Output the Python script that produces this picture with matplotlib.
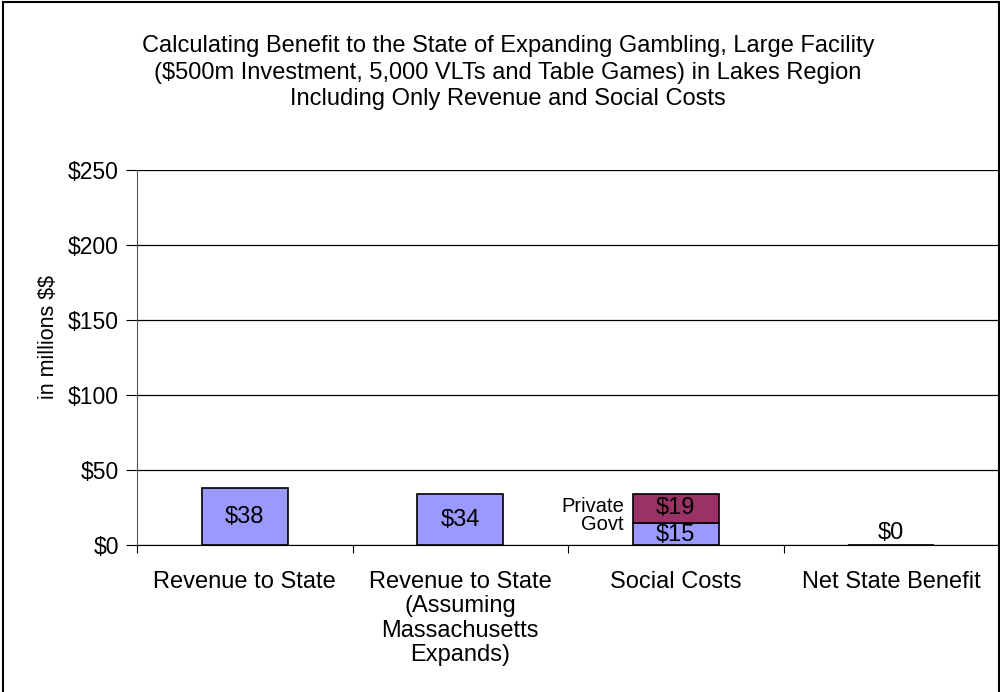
import numpy as np
import matplotlib
matplotlib.use("Agg")
import matplotlib.pyplot as plt
from matplotlib.patches import Rectangle

# data ---------------------------------------------------------------------
categories = ["Revenue to State",
              "Revenue to State\n(Assuming\nMassachusetts\nExpands)",
              "Social Costs",
              "Net State Benefit"]
govt_vals = [38, 34, 15, 0]
private_vals = [0, 0, 19, 0]
yticks = [0, 50, 100, 150, 200, 250]

title = ("Calculating Benefit to the State of Expanding Gambling, Large Facility\n"
         "($500m Investment, 5,000 VLTs and Table Games) in Lakes Region\n"
         "Including Only Revenue and Social Costs")

BLUE = "#9999FF"
MAROON = "#993366"

plt.rcParams["font.family"] = ["Liberation Sans", "DejaVu Sans"]
plt.rcParams["text.parse_math"] = False

fig = plt.figure(figsize=(10, 6.92), dpi=100)
ax = fig.add_axes([0.137, 0.2124, 0.862, 0.5419])

x = np.arange(len(categories))
w = 0.4

ax.bar(x, govt_vals, width=w, color=BLUE, edgecolor="black", linewidth=1.2, zorder=3)
ax.bar(x[2], private_vals[2], bottom=govt_vals[2], width=w, color=MAROON,
       edgecolor="black", linewidth=1.2, zorder=3)

# value labels
for i in [0, 1]:
    ax.text(x[i], govt_vals[i] / 2, "$%d" % govt_vals[i], ha="center", va="center",
            fontsize=17, zorder=4)
ax.text(x[2], govt_vals[2] / 2 - 0.5, "$%d" % govt_vals[2], ha="center", va="center",
        fontsize=17, zorder=4)
ax.text(x[2], govt_vals[2] + private_vals[2] / 2, "$%d" % private_vals[2],
        ha="center", va="center", fontsize=17, zorder=4)
ax.text(x[3], govt_vals[3] + 0.5, "$%d" % govt_vals[3], ha="center", va="bottom",
        fontsize=17, zorder=4)

# series names beside the stacked bar
ax.text(x[2] - w / 2 - 0.04, govt_vals[2] + private_vals[2] / 2 + 1, "Private",
        ha="right", va="center", fontsize=14.5)
ax.text(x[2] - w / 2 - 0.04, govt_vals[2] - 1.5, "Govt",
        ha="right", va="center", fontsize=14.5)

ax.set_xlim(-0.5, len(categories) - 0.5)
ax.set_ylim(0, 250)
ax.set_yticks(yticks)
ax.set_yticklabels(["$%d" % v for v in yticks], fontsize=16.5)
ax.yaxis.grid(True, color="black", linewidth=0.9)
ax.set_axisbelow(True)

# category labels between boundary ticks
ax.set_xticks(np.arange(len(categories) + 1) - 0.5)
ax.set_xticklabels([])
ax.tick_params(axis="x", length=6, direction="out", color="black")
ax.tick_params(axis="y", length=8, direction="out", color="black", pad=5)
for i, c in enumerate(categories):
    ax.text(x[i], -17, c, ha="center", va="top", fontsize=17, linespacing=1.15)

for s in ["top", "right"]:
    ax.spines[s].set_visible(False)
ax.spines["left"].set_color("#555555")
ax.spines["bottom"].set_color("black")

ax.set_ylabel("in millions $$", fontsize=15.5)
ax.yaxis.set_label_coords(-0.091, 0.555)

fig.text(0.508, 0.949, title, ha="center", va="top", fontsize=17, linespacing=1.25)

# outer chart frame
fig.patches.append(Rectangle((0.003, -0.05), 0.996, 1.047, transform=fig.transFigure,
                             fill=False, edgecolor="black", linewidth=1.5))

fig.savefig("out.png", dpi=100)
